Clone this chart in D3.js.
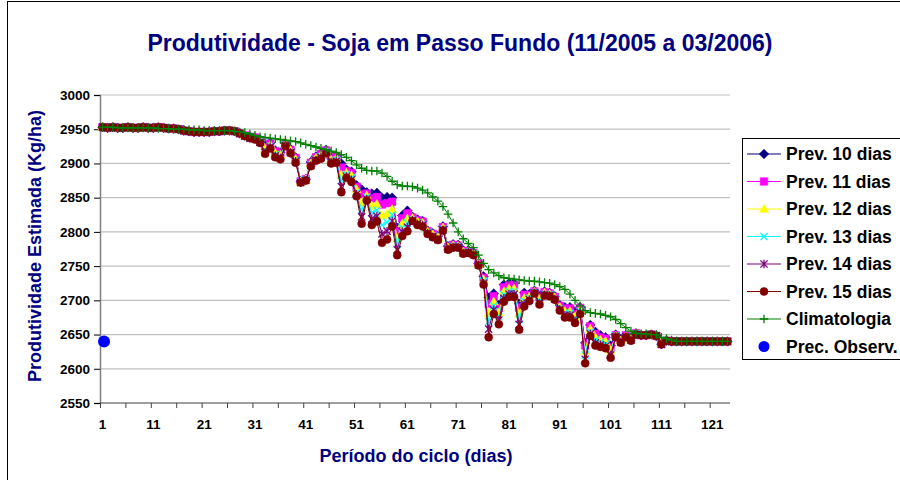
<!DOCTYPE html>
<html>
<head>
<meta charset="utf-8">
<script src="https://cdn.jsdelivr.net/npm/d3@7"></script>
<style>
  body { margin: 0; background: #fff; }
  svg { display: block; font-family: "Liberation Sans", Arial, sans-serif; font-weight: bold; }
</style>
</head>
<body>
<svg id="chart" width="900" height="480"></svg>
<script>
// data - dias do ciclo 1..124
let days = d3.range(1, 125);
let xLabels = [1, 11, 21, 31, 41, 51, 61, 71, 81, 91, 101, 111, 121];
let yTicks = [2550, 2600, 2650, 2700, 2750, 2800, 2850, 2900, 2950, 3000];

let prev10 = [
  2953,2952,2953,2952,2952,2953,2952,2952,2953,2952,
  2952,2953,2952,2951,2951,2950,2948,2947,2946,2946,
  2946,2946,2947,2947,2948,2948,2947,2944,2941,2939,
  2938,2935,2926,2930,2919,2916,2929,2921,2909,2874,
  2877,2902,2910,2915,2920,2908,2911,2900,2891,2888,
  2868,2862,2858,2856,2857,2850,2851,2850,2806,2824,
  2831,2822,2818,2816,2802,2798,2794,2808,2779,2782,
  2781,2773,2773,2770,2754,2735,2704,2710,2693,2723,
  2725,2725,2695,2711,2709,2714,2706,2713,2711,2706,
  2693,2690,2690,2682,2690,2638,2664,2654,2649,2646,
  2634,2650,2643,2649,2645,2652,2649,2649,2650,2648,
  2636,2641,2640,2640,2640,2640,2640,2640,2640,2640,
  2640,2640,2640,2640];
let prev11 = [
  2953,2952,2953,2952,2952,2953,2952,2952,2953,2952,
  2952,2953,2952,2951,2951,2950,2948,2947,2946,2946,
  2946,2946,2947,2947,2948,2948,2947,2944,2941,2939,
  2938,2934,2924,2929,2918,2915,2928,2920,2908,2874,
  2877,2901,2909,2914,2919,2907,2910,2894,2889,2886,
  2866,2855,2856,2849,2851,2840,2842,2844,2800,2820,
  2827,2821,2817,2815,2801,2797,2793,2807,2778,2781,
  2780,2772,2772,2769,2754,2733,2695,2706,2689,2719,
  2722,2722,2689,2708,2708,2713,2704,2712,2710,2705,
  2692,2688,2688,2680,2689,2634,2662,2651,2646,2644,
  2631,2649,2642,2649,2644,2652,2649,2649,2650,2648,
  2636,2641,2640,2640,2640,2640,2640,2640,2640,2640,
  2640,2640,2640,2640];
let prev12 = [
  2953,2952,2953,2952,2952,2953,2952,2952,2953,2952,
  2952,2953,2952,2951,2951,2950,2948,2947,2946,2946,
  2946,2946,2947,2947,2948,2948,2947,2944,2941,2938,
  2937,2933,2921,2927,2915,2912,2927,2919,2906,2873,
  2876,2900,2908,2912,2918,2905,2907,2883,2886,2882,
  2862,2842,2853,2838,2840,2824,2826,2833,2790,2812,
  2819,2820,2815,2813,2800,2796,2792,2806,2777,2780,
  2779,2771,2771,2768,2753,2730,2681,2698,2682,2713,
  2717,2717,2680,2703,2705,2712,2701,2711,2709,2704,
  2690,2684,2684,2676,2686,2626,2658,2646,2642,2640,
  2627,2648,2641,2648,2643,2651,2649,2649,2650,2648,
  2636,2641,2640,2640,2640,2640,2640,2640,2640,2640,
  2640,2640,2640,2640];
let prev13 = [
  2953,2952,2953,2952,2952,2953,2952,2952,2953,2952,
  2952,2953,2952,2951,2951,2950,2948,2947,2946,2946,
  2946,2946,2947,2947,2948,2948,2947,2944,2940,2938,
  2936,2932,2919,2925,2913,2910,2927,2917,2904,2873,
  2876,2898,2906,2910,2917,2903,2905,2875,2884,2879,
  2858,2832,2851,2828,2832,2810,2814,2825,2782,2806,
  2813,2818,2813,2811,2799,2794,2790,2804,2776,2779,
  2779,2770,2771,2768,2752,2728,2669,2692,2676,2708,
  2713,2713,2672,2699,2703,2712,2699,2709,2708,2703,
  2688,2681,2681,2673,2684,2620,2654,2642,2639,2636,
  2623,2648,2640,2647,2643,2651,2649,2649,2650,2648,
  2636,2641,2640,2640,2640,2640,2640,2640,2640,2640,
  2640,2640,2640,2640];
let prev14 = [
  2953,2952,2953,2952,2952,2953,2952,2952,2953,2952,
  2952,2953,2952,2951,2951,2950,2948,2947,2946,2946,
  2946,2946,2947,2947,2948,2948,2947,2944,2940,2937,
  2936,2931,2916,2924,2911,2908,2926,2916,2903,2872,
  2875,2897,2905,2909,2916,2902,2903,2866,2881,2876,
  2855,2822,2848,2819,2823,2797,2801,2816,2774,2800,
  2807,2817,2812,2810,2798,2793,2789,2803,2775,2778,
  2778,2769,2770,2767,2752,2725,2658,2686,2671,2703,
  2709,2709,2665,2695,2701,2711,2696,2708,2707,2702,
  2687,2678,2678,2670,2682,2614,2651,2638,2635,2633,
  2620,2647,2639,2647,2642,2650,2649,2649,2650,2648,
  2636,2641,2640,2640,2640,2640,2640,2640,2640,2640,
  2640,2640,2640,2640];
let prev15 = [
  2953,2952,2953,2952,2952,2953,2952,2952,2953,2952,
  2952,2953,2952,2951,2951,2950,2948,2947,2946,2946,
  2946,2946,2947,2947,2948,2948,2947,2944,2940,2937,
  2935,2930,2914,2922,2909,2906,2925,2915,2901,2872,
  2875,2896,2904,2907,2915,2900,2901,2858,2879,2873,
  2852,2812,2846,2810,2815,2784,2789,2808,2766,2794,
  2801,2816,2810,2808,2797,2792,2788,2802,2774,2777,
  2777,2768,2769,2766,2751,2723,2646,2680,2665,2698,
  2705,2705,2657,2691,2699,2710,2694,2707,2706,2701,
  2685,2675,2675,2667,2680,2608,2648,2634,2632,2630,
  2616,2646,2638,2646,2641,2650,2649,2649,2650,2648,
  2636,2641,2640,2640,2640,2640,2640,2640,2640,2640,
  2640,2640,2640,2640];
let climatologia = [
  2953,2953,2953,2952,2952,2952,2952,2952,2952,2952,
  2952,2951,2951,2951,2950,2950,2950,2949,2949,2949,
  2948,2948,2948,2948,2948,2948,2947,2946,2945,2943,
  2941,2939,2938,2937,2936,2935,2934,2933,2932,2930,
  2928,2926,2924,2922,2920,2918,2916,2913,2909,2904,
  2898,2893,2890,2889,2889,2886,2881,2874,2869,2867,
  2867,2866,2864,2861,2857,2851,2845,2837,2826,2813,
  2800,2790,2783,2777,2766,2754,2745,2740,2736,2733,
  2732,2731,2730,2729,2728,2728,2727,2726,2725,2723,
  2720,2716,2709,2700,2692,2685,2682,2681,2680,2678,
  2676,2672,2666,2660,2655,2652,2651,2651,2650,2650,
  2646,2644,2642,2640,2640,2640,2640,2640,2640,2640,
  2640,2640,2640,2640];
let observado = [{day: 1, value: 2640}];

// colors
let colorNavy = "#000080";
let colorMagenta = "#ff00ff";
let colorYellow = "#ffff00";
let colorCyan = "#00ffff";
let colorPurple = "#800080";
let colorMaroon = "#800000";
let colorGreen = "#008000";
let colorBlue = "#0000ff";

// marker shapes (path strings centred on 0,0)
let markers = {
  diamond: "M0,-4.8L4.8,0L0,4.8L-4.8,0Z",
  square: "M-3.8,-3.8h7.6v7.6h-7.6Z",
  triangle: "M0,-4.8L4.6,3.3L-4.6,3.3Z",
  times: "M-3.6,-3.6L3.6,3.6M-3.6,3.6L3.6,-3.6",
  star: "M-3.6,-3.6L3.6,3.6M-3.6,3.6L3.6,-3.6M0,-4.3V4.3",
  circle: d3.symbol(d3.symbolCircle, Math.PI * 4 * 4)(),
  plus: "M-4.3,0H4.3M0,-4.3V4.3"
};

let series = [
  {name: "Prev. 10 dias", values: prev10, color: colorNavy, marker: "diamond", fill: true},
  {name: "Prev. 11 dias", values: prev11, color: colorMagenta, marker: "square", fill: true},
  {name: "Prev. 12 dias", values: prev12, color: colorYellow, marker: "triangle", fill: true},
  {name: "Prev. 13 dias", values: prev13, color: colorCyan, marker: "times", fill: false},
  {name: "Prev. 14 dias", values: prev14, color: colorPurple, marker: "star", fill: false},
  {name: "Prev. 15 dias", values: prev15, color: colorMaroon, marker: "circle", fill: true},
  {name: "Climatologia", values: climatologia, color: colorGreen, marker: "plus", fill: false}
];

let svg = d3.select("#chart");

// chart border
svg.append("rect")
  .attr("x", 7.5).attr("y", 1.5)
  .attr("width", 1000).attr("height", 1000)
  .attr("fill", "#fff").attr("stroke", "#000").attr("stroke-width", 1);

let plotLeft = 100, plotRight = 730, plotTop = 95, plotBottom = 403;

let x = d3.scaleBand().domain(days).range([plotLeft, plotRight]);
let xc = d => x(d) + x.bandwidth() / 2;
let xEdge = d3.scaleLinear().domain([0, days.length]).range([plotLeft, plotRight]);
let y = d3.scaleLinear().domain([2550, 3000]).range([plotBottom, plotTop]);

// gridlines
svg.append("g")
  .selectAll("line")
  .data(yTicks.filter(t => t > 2550))
  .enter()
  .append("line")
  .attr("x1", plotLeft).attr("x2", plotRight)
  .attr("y1", d => y(d)).attr("y2", d => y(d))
  .attr("stroke", "#c0c0c0").attr("stroke-width", 1.2);

// y axis
let yAxis = svg.append("g")
  .attr("transform", "translate(" + plotLeft + ",0)")
  .call(d3.axisLeft(y).tickValues(yTicks).tickSize(6).tickPadding(4).tickFormat(d3.format("d")));
yAxis.select(".domain").attr("stroke", "#808080").attr("stroke-width", 1.5);
yAxis.selectAll(".tick line").attr("stroke", "#000");
yAxis.selectAll("text")
  .style("font-size", "13.5px").style("font-family", "'Liberation Sans', Arial, sans-serif")
  .style("font-weight", "bold").attr("fill", "#000");

// x axis: tick marks every 5 categories, labels every 10
let xTicks = svg.append("g")
  .attr("transform", "translate(0," + plotBottom + ")")
  .call(d3.axisBottom(xEdge).tickValues(d3.range(0, days.length, 5)).tickSize(5).tickFormat(""));
xTicks.select(".domain").attr("stroke", "#404040").attr("stroke-width", 1.2)
  .attr("d", "M" + plotLeft + ",0H" + plotRight);
xTicks.selectAll(".tick line").attr("stroke", "#404040");

let xAxis = svg.append("g")
  .attr("transform", "translate(0," + plotBottom + ")")
  .call(d3.axisBottom(x).tickValues(xLabels).tickSize(0).tickPadding(16));
xAxis.select(".domain").remove();
xAxis.selectAll("text")
  .style("font-size", "13.5px").style("font-family", "'Liberation Sans', Arial, sans-serif")
  .style("font-weight", "bold").attr("fill", "#000");

// series lines and markers
let line = d3.line().x((d, i) => xc(days[i])).y(d => y(d));

series.forEach(function(s) {
  let g = svg.append("g").attr("class", "series");
  g.append("path")
    .datum(s.values)
    .attr("d", line)
    .attr("fill", "none")
    .attr("stroke", s.color)
    .attr("stroke-width", 1);
  g.selectAll(".mk")
    .data(s.values)
    .enter()
    .append("path")
    .attr("class", "mk")
    .attr("d", markers[s.marker])
    .attr("transform", (d, i) => "translate(" + xc(days[i]) + "," + y(d) + ")")
    .attr("fill", s.fill ? s.color : "none")
    .attr("stroke", s.color)
    .attr("stroke-width", s.fill ? 0.5 : 1.3);
});

// observed precipitation point
svg.selectAll(".obs")
  .data(observado)
  .enter()
  .append("circle")
  .attr("class", "obs")
  .attr("cx", d => xc(d.day) + 1.5)
  .attr("cy", d => y(d.value))
  .attr("r", 6)
  .attr("fill", colorBlue);

// titles
svg.append("text")
  .attr("x", 460).attr("y", 51)
  .attr("text-anchor", "middle")
  .attr("fill", colorNavy)
  .style("font-size", "23px")
  .text("Produtividade - Soja em Passo Fundo (11/2005 a 03/2006)");

svg.append("text")
  .attr("transform", "translate(41,246) rotate(-90)")
  .attr("text-anchor", "middle")
  .attr("fill", colorNavy)
  .style("font-size", "18px")
  .text("Produtividade Estimada (Kg/ha)");

svg.append("text")
  .attr("x", 416).attr("y", 462)
  .attr("text-anchor", "middle")
  .attr("fill", colorNavy)
  .style("font-size", "18px")
  .text("Período do ciclo (dias)");

// legend
let legendItems = series.concat([{name: "Prec. Observ.", color: colorBlue, marker: "dot"}]);
let legend = svg.append("g");
legend.append("rect")
  .attr("x", 742.5).attr("y", 138.5)
  .attr("width", 300).attr("height", 221)
  .attr("fill", "#fff").attr("stroke", "#000").attr("stroke-width", 1);

let item = legend.selectAll(".item")
  .data(legendItems)
  .enter()
  .append("g")
  .attr("class", "item")
  .attr("transform", (d, i) => "translate(0," + (154 + i * 27.5) + ")");

item.filter(d => d.marker !== "dot")
  .append("line")
  .attr("x1", 747).attr("x2", 781)
  .attr("stroke", d => d.color).attr("stroke-width", 1.2);
item.filter(d => d.marker !== "dot")
  .append("path")
  .attr("d", d => markers[d.marker])
  .attr("transform", "translate(764,0)")
  .attr("fill", d => d.fill ? d.color : "none")
  .attr("stroke", d => d.color)
  .attr("stroke-width", d => d.fill ? 0.5 : 1.3);
item.filter(d => d.marker === "dot")
  .append("circle")
  .attr("cx", 764).attr("r", 5.5)
  .attr("fill", d => d.color);
item.append("text")
  .attr("x", 786).attr("dy", "0.36em")
  .attr("fill", "#000")
  .style("font-size", "17.5px")
  .text(d => d.name);
</script>
</body>
</html>
